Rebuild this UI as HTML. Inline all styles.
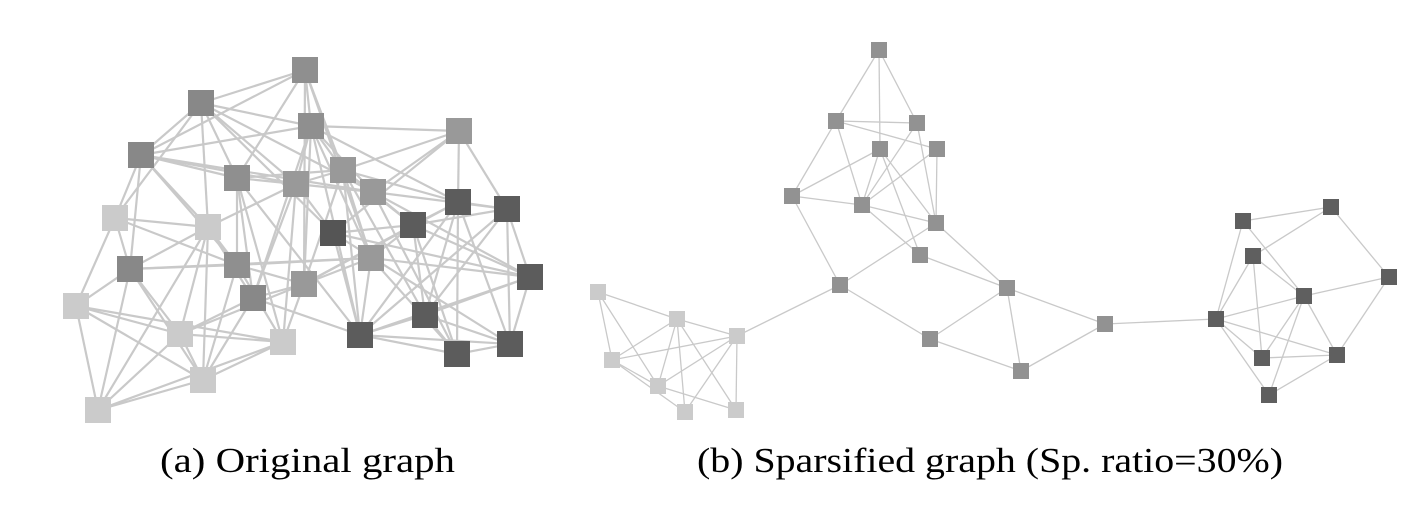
<!DOCTYPE html>
<html><head><meta charset="utf-8"><style>html,body{margin:0;padding:0;background:#fff}svg{display:block}</style></head><body>
<svg width="1417" height="515" viewBox="0 0 1417 515" xmlns="http://www.w3.org/2000/svg">
<g stroke="#c9c9c9" stroke-width="2.2">
<line x1="305" y1="70" x2="201" y2="103"/><line x1="305" y1="70" x2="311" y2="126"/><line x1="305" y1="70" x2="237" y2="178"/><line x1="305" y1="70" x2="141" y2="155"/><line x1="305" y1="70" x2="304" y2="284"/><line x1="305" y1="70" x2="343" y2="170"/><line x1="305" y1="70" x2="371" y2="258"/>
<line x1="201" y1="103" x2="311" y2="126"/><line x1="201" y1="103" x2="141" y2="155"/><line x1="201" y1="103" x2="237" y2="178"/><line x1="201" y1="103" x2="296" y2="184"/><line x1="201" y1="103" x2="373" y2="192"/><line x1="201" y1="103" x2="333" y2="233"/><line x1="201" y1="103" x2="115" y2="218"/><line x1="201" y1="103" x2="208" y2="227"/>
<line x1="311" y1="126" x2="459" y2="131"/><line x1="311" y1="126" x2="141" y2="155"/><line x1="311" y1="126" x2="296" y2="184"/><line x1="311" y1="126" x2="343" y2="170"/><line x1="311" y1="126" x2="373" y2="192"/><line x1="311" y1="126" x2="253" y2="298"/><line x1="311" y1="126" x2="304" y2="284"/><line x1="311" y1="126" x2="371" y2="258"/><line x1="311" y1="126" x2="458" y2="202"/><line x1="311" y1="126" x2="360" y2="335"/>
<line x1="459" y1="131" x2="343" y2="170"/><line x1="459" y1="131" x2="373" y2="192"/><line x1="459" y1="131" x2="333" y2="233"/><line x1="459" y1="131" x2="458" y2="202"/><line x1="459" y1="131" x2="507" y2="209"/>
<line x1="141" y1="155" x2="237" y2="178"/><line x1="141" y1="155" x2="296" y2="184"/><line x1="141" y1="155" x2="115" y2="218"/><line x1="141" y1="155" x2="130" y2="269"/><line x1="141" y1="155" x2="208" y2="227"/><line x1="141" y1="155" x2="237" y2="265"/><line x1="141" y1="155" x2="373" y2="192"/>
<line x1="237" y1="178" x2="296" y2="184"/><line x1="237" y1="178" x2="343" y2="170"/><line x1="237" y1="178" x2="237" y2="265"/><line x1="237" y1="178" x2="253" y2="298"/><line x1="237" y1="178" x2="283" y2="342"/><line x1="237" y1="178" x2="360" y2="335"/>
<line x1="296" y1="184" x2="343" y2="170"/><line x1="296" y1="184" x2="373" y2="192"/><line x1="296" y1="184" x2="333" y2="233"/><line x1="296" y1="184" x2="283" y2="342"/><line x1="296" y1="184" x2="253" y2="298"/>
<line x1="343" y1="170" x2="373" y2="192"/><line x1="343" y1="170" x2="458" y2="202"/><line x1="343" y1="170" x2="413" y2="225"/><line x1="343" y1="170" x2="371" y2="258"/><line x1="343" y1="170" x2="360" y2="335"/><line x1="343" y1="170" x2="425" y2="315"/><line x1="343" y1="170" x2="304" y2="284"/>
<line x1="373" y1="192" x2="507" y2="209"/><line x1="373" y1="192" x2="413" y2="225"/><line x1="373" y1="192" x2="530" y2="277"/><line x1="373" y1="192" x2="457" y2="354"/>
<line x1="115" y1="218" x2="208" y2="227"/><line x1="115" y1="218" x2="130" y2="269"/><line x1="115" y1="218" x2="76" y2="306"/><line x1="115" y1="218" x2="237" y2="265"/>
<line x1="208" y1="227" x2="296" y2="184"/><line x1="208" y1="227" x2="130" y2="269"/><line x1="208" y1="227" x2="180" y2="334"/><line x1="208" y1="227" x2="203" y2="380"/><line x1="208" y1="227" x2="253" y2="298"/><line x1="208" y1="227" x2="237" y2="265"/>
<line x1="333" y1="233" x2="413" y2="225"/><line x1="333" y1="233" x2="530" y2="277"/><line x1="333" y1="233" x2="360" y2="335"/><line x1="333" y1="233" x2="510" y2="344"/>
<line x1="413" y1="225" x2="458" y2="202"/><line x1="413" y1="225" x2="507" y2="209"/><line x1="413" y1="225" x2="530" y2="277"/><line x1="413" y1="225" x2="425" y2="315"/><line x1="413" y1="225" x2="457" y2="354"/>
<line x1="458" y1="202" x2="507" y2="209"/><line x1="458" y1="202" x2="360" y2="335"/><line x1="458" y1="202" x2="510" y2="344"/><line x1="458" y1="202" x2="457" y2="354"/><line x1="458" y1="202" x2="425" y2="315"/>
<line x1="507" y1="209" x2="425" y2="315"/><line x1="507" y1="209" x2="510" y2="344"/><line x1="507" y1="209" x2="530" y2="277"/><line x1="507" y1="209" x2="360" y2="335"/>
<line x1="130" y1="269" x2="237" y2="265"/><line x1="130" y1="269" x2="371" y2="258"/><line x1="130" y1="269" x2="76" y2="306"/><line x1="130" y1="269" x2="180" y2="334"/><line x1="130" y1="269" x2="203" y2="380"/><line x1="130" y1="269" x2="98" y2="410"/>
<line x1="237" y1="265" x2="371" y2="258"/><line x1="237" y1="265" x2="304" y2="284"/><line x1="371" y1="258" x2="304" y2="284"/><line x1="371" y1="258" x2="413" y2="225"/><line x1="371" y1="258" x2="457" y2="354"/><line x1="371" y1="258" x2="360" y2="335"/><line x1="371" y1="258" x2="530" y2="277"/>
<line x1="253" y1="298" x2="304" y2="284"/><line x1="253" y1="298" x2="180" y2="334"/><line x1="253" y1="298" x2="360" y2="335"/><line x1="304" y1="284" x2="458" y2="202"/><line x1="304" y1="284" x2="283" y2="342"/><line x1="304" y1="284" x2="413" y2="225"/>
<line x1="530" y1="277" x2="425" y2="315"/><line x1="530" y1="277" x2="360" y2="335"/><line x1="530" y1="277" x2="510" y2="344"/>
<line x1="76" y1="306" x2="180" y2="334"/><line x1="76" y1="306" x2="283" y2="342"/><line x1="76" y1="306" x2="203" y2="380"/><line x1="76" y1="306" x2="98" y2="410"/>
<line x1="180" y1="334" x2="203" y2="380"/><line x1="180" y1="334" x2="98" y2="410"/><line x1="180" y1="334" x2="283" y2="342"/><line x1="180" y1="334" x2="304" y2="284"/>
<line x1="283" y1="342" x2="203" y2="380"/><line x1="283" y1="342" x2="98" y2="410"/><line x1="283" y1="342" x2="237" y2="265"/>
<line x1="360" y1="335" x2="425" y2="315"/><line x1="360" y1="335" x2="457" y2="354"/><line x1="360" y1="335" x2="510" y2="344"/><line x1="425" y1="315" x2="457" y2="354"/><line x1="425" y1="315" x2="510" y2="344"/><line x1="457" y1="354" x2="510" y2="344"/>
<line x1="203" y1="380" x2="98" y2="410"/><line x1="203" y1="380" x2="237" y2="265"/><line x1="203" y1="380" x2="253" y2="298"/><line x1="98" y1="410" x2="208" y2="227"/>
</g>
<g stroke="#c9c9c9" stroke-width="1.3">
<line x1="879" y1="50" x2="836" y2="121"/><line x1="879" y1="50" x2="880" y2="149"/><line x1="879" y1="50" x2="917" y2="123"/><line x1="836" y1="121" x2="917" y2="123"/><line x1="836" y1="121" x2="937" y2="149"/><line x1="836" y1="121" x2="792" y2="196"/><line x1="836" y1="121" x2="862" y2="205"/><line x1="917" y1="123" x2="862" y2="205"/><line x1="917" y1="123" x2="936" y2="223"/><line x1="880" y1="149" x2="792" y2="196"/><line x1="880" y1="149" x2="862" y2="205"/><line x1="880" y1="149" x2="936" y2="223"/><line x1="880" y1="149" x2="920" y2="255"/><line x1="937" y1="149" x2="862" y2="205"/><line x1="937" y1="149" x2="936" y2="223"/><line x1="792" y1="196" x2="862" y2="205"/><line x1="792" y1="196" x2="840" y2="285"/><line x1="862" y1="205" x2="936" y2="223"/><line x1="862" y1="205" x2="920" y2="255"/><line x1="936" y1="223" x2="840" y2="285"/><line x1="936" y1="223" x2="1007" y2="288"/><line x1="920" y1="255" x2="1007" y2="288"/><line x1="840" y1="285" x2="930" y2="339"/><line x1="930" y1="339" x2="1007" y2="288"/><line x1="930" y1="339" x2="1021" y2="371"/><line x1="1007" y1="288" x2="1021" y2="371"/><line x1="1007" y1="288" x2="1105" y2="324"/><line x1="1021" y1="371" x2="1105" y2="324"/><line x1="1105" y1="324" x2="1216" y2="319"/><line x1="840" y1="285" x2="737" y2="336"/>
<line x1="598" y1="292" x2="677" y2="319"/><line x1="598" y1="292" x2="612" y2="360"/><line x1="598" y1="292" x2="658" y2="386"/><line x1="677" y1="319" x2="737" y2="336"/><line x1="677" y1="319" x2="612" y2="360"/><line x1="677" y1="319" x2="658" y2="386"/><line x1="677" y1="319" x2="685" y2="412"/><line x1="677" y1="319" x2="736" y2="410"/><line x1="612" y1="360" x2="737" y2="336"/><line x1="612" y1="360" x2="658" y2="386"/><line x1="612" y1="360" x2="685" y2="412"/><line x1="658" y1="386" x2="737" y2="336"/><line x1="658" y1="386" x2="736" y2="410"/><line x1="737" y1="336" x2="685" y2="412"/><line x1="737" y1="336" x2="736" y2="410"/>
<line x1="1243" y1="221" x2="1331" y2="207"/><line x1="1243" y1="221" x2="1216" y2="319"/><line x1="1243" y1="221" x2="1304" y2="296"/><line x1="1253" y1="256" x2="1331" y2="207"/><line x1="1253" y1="256" x2="1216" y2="319"/><line x1="1253" y1="256" x2="1304" y2="296"/><line x1="1253" y1="256" x2="1262" y2="358"/><line x1="1304" y1="296" x2="1389" y2="277"/><line x1="1331" y1="207" x2="1389" y2="277"/><line x1="1304" y1="296" x2="1216" y2="319"/><line x1="1304" y1="296" x2="1262" y2="358"/><line x1="1304" y1="296" x2="1337" y2="355"/><line x1="1304" y1="296" x2="1269" y2="395"/><line x1="1216" y1="319" x2="1337" y2="355"/><line x1="1216" y1="319" x2="1262" y2="358"/><line x1="1216" y1="319" x2="1269" y2="395"/><line x1="1262" y1="358" x2="1337" y2="355"/><line x1="1389" y1="277" x2="1337" y2="355"/><line x1="1337" y1="355" x2="1269" y2="395"/>
</g>
<g fill="#8f8f8f">
<rect x="292" y="57" width="26" height="26"/><rect x="188" y="90" width="26" height="26" fill="#888"/><rect x="298" y="113" width="26" height="26"/><rect x="446" y="118" width="26" height="26" fill="#999"/><rect x="128" y="142" width="26" height="26" fill="#888"/><rect x="224" y="165" width="26" height="26"/><rect x="283" y="171" width="26" height="26" fill="#999"/><rect x="330" y="157" width="26" height="26" fill="#999"/><rect x="360" y="179" width="26" height="26" fill="#999"/><rect x="117" y="256" width="26" height="26" fill="#888"/><rect x="224" y="252" width="26" height="26"/><rect x="358" y="245" width="26" height="26" fill="#999"/><rect x="240" y="285" width="26" height="26" fill="#888"/><rect x="291" y="271" width="26" height="26" fill="#999"/>
</g>
<g fill="#5c5c5c">
<rect x="445" y="189" width="26" height="26"/><rect x="494" y="196" width="26" height="26"/><rect x="320" y="220" width="26" height="26" fill="#555"/><rect x="400" y="212" width="26" height="26"/><rect x="517" y="264" width="26" height="26"/><rect x="347" y="322" width="26" height="26"/><rect x="412" y="302" width="26" height="26"/><rect x="444" y="341" width="26" height="26"/><rect x="497" y="331" width="26" height="26"/>
</g>
<g fill="#cbcbcb">
<rect x="102" y="205" width="26" height="26"/><rect x="195" y="214" width="26" height="26"/><rect x="63" y="293" width="26" height="26"/><rect x="167" y="321" width="26" height="26"/><rect x="270" y="329" width="26" height="26"/><rect x="190" y="367" width="26" height="26"/><rect x="85" y="397" width="26" height="26"/>
</g>
<g fill="#929292">
<rect x="871" y="42" width="16" height="16"/><rect x="828" y="113" width="16" height="16"/><rect x="909" y="115" width="16" height="16"/><rect x="872" y="141" width="16" height="16"/><rect x="929" y="141" width="16" height="16"/><rect x="784" y="188" width="16" height="16"/><rect x="854" y="197" width="16" height="16"/><rect x="928" y="215" width="16" height="16"/><rect x="912" y="247" width="16" height="16"/><rect x="832" y="277" width="16" height="16"/><rect x="999" y="280" width="16" height="16"/><rect x="922" y="331" width="16" height="16"/><rect x="1013" y="363" width="16" height="16"/><rect x="1097" y="316" width="16" height="16"/>
</g>
<g fill="#cbcbcb">
<rect x="590" y="284" width="16" height="16"/><rect x="669" y="311" width="16" height="16"/><rect x="729" y="328" width="16" height="16"/><rect x="604" y="352" width="16" height="16"/><rect x="650" y="378" width="16" height="16"/><rect x="677" y="404" width="16" height="16"/><rect x="728" y="402" width="16" height="16"/>
</g>
<g fill="#5f5f5f">
<rect x="1235" y="213" width="16" height="16"/><rect x="1323" y="199" width="16" height="16"/><rect x="1245" y="248" width="16" height="16"/><rect x="1296" y="288" width="16" height="16"/><rect x="1381" y="269" width="16" height="16"/><rect x="1208" y="311" width="16" height="16"/><rect x="1254" y="350" width="16" height="16"/><rect x="1329" y="347" width="16" height="16"/><rect x="1261" y="387" width="16" height="16"/>
</g>
<g font-family="'Liberation Serif', serif" font-size="35" fill="#000">
<text x="160" y="472" textLength="295" lengthAdjust="spacingAndGlyphs">(a) Original graph</text>
<text x="697" y="472" textLength="586" lengthAdjust="spacingAndGlyphs">(b) Sparsified graph (Sp. ratio=30%)</text>
</g>
</svg>
</body></html>
